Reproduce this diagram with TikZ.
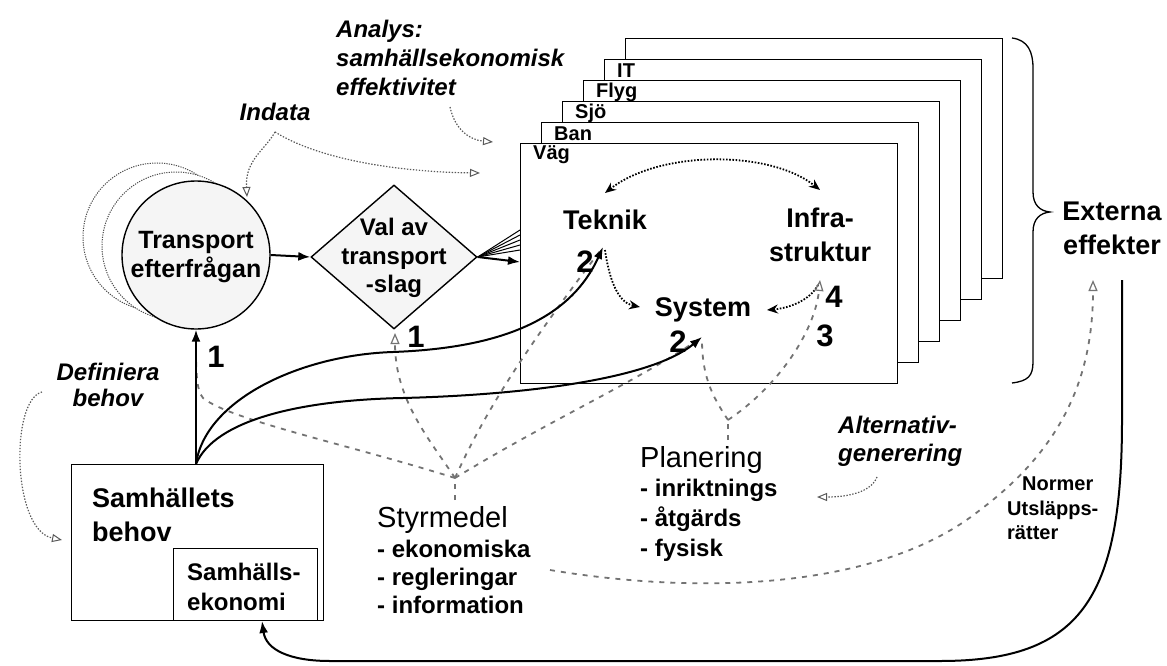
\documentclass[tikz,border=0pt]{standalone}
\usepackage{fontspec}
\setmainfont{Liberation Sans}
\usetikzlibrary{arrows.meta,shapes.geometric}
\tikzset{
  box/.style={draw, line width=1.4pt, fill=white, inner sep=0pt},
  lbl/.style={inner sep=0pt, font=\bfseries\fontsize{20}{24}\selectfont, anchor=west},
  big/.style={inner sep=0pt, align=center, font=\bfseries\fontsize{27}{34}\selectfont},
  num/.style={inner sep=0pt, font=\bfseries\fontsize{31}{31}\selectfont},
  itl/.style={inner sep=0pt, font=\bfseries\itshape\fontsize{24}{29}\selectfont},
  solidarr/.style={line width=2pt, -{Latex[length=12pt,width=9pt]}},
  solidln/.style={line width=2pt},
  gdash/.style={draw=black!55, line width=1.8pt, dash pattern=on 5pt off 6pt},
  garr/.style={gdash, -{Triangle[open,length=11pt,width=9pt,line width=1.2pt]}},
  bdot/.style={line width=1.8pt, dash pattern=on 1.6pt off 1.6pt},
  bdotarr/.style={bdot, -{Stealth[length=11pt,width=9pt]}},
  sdot/.style={draw=black!65, line width=1.2pt, dash pattern=on 1.4pt off 1.6pt, -{Triangle[open,length=10pt,width=8pt,line width=1pt]}},
  shadow/.style={circle, draw=black!70, line width=1pt, dash pattern=on 1.2pt off 1.2pt, fill=white, minimum size=148, inner sep=0pt}
}
\begin{document}
\begin{tikzpicture}[x=1pt,y=-1pt]
\useasboundingbox (0,0) rectangle (1167,666);

% ---- stack of mode boxes
\foreach \k/\t in {5/{},4/IT,3/Flyg,2/Sjö,1/Ban,0/Väg} {
  \node[box, minimum width=377, minimum height=240, anchor=north west] (b\k) at ({520+21*\k},{143-21*\k}) {};
  \node[lbl] (l\k) at ({533+21*\k},{155-21*\k}) {\t};
}

% brace
\coordinate (brT) at (1012,38);
\coordinate (brB) at (1012,383);
\coordinate (brP) at (1050,212);
\draw[line width=1.3pt] (brT) .. controls (1028,40) and (1033,52) .. (1033,68) -- (1033,192)
  .. controls (1033,205) and (1040,211) .. (brP)
  .. controls (1040,213) and (1033,219) .. (1033,232) -- (1033,362)
  .. controls (1033,376) and (1028,381) .. (brB);
\node[big] (ext) at (1112,228) {Externa\\effekter};

% ---- circle with shadows
\node[shadow] (sh2) at (157,237) {};
\node[shadow] (sh1) at (176,246) {};
\node[circle, draw, line width=1.4pt, fill=black!4, minimum size=148, inner sep=0pt] (circ) at (196,255) {};
\node[inner sep=0pt, align=center, font=\bfseries\fontsize{25}{29}\selectfont] (circt) at (196,257) {Transport\\efterfrågan};

% ---- diamond
\node[diamond, draw, line width=1.4pt, fill=black!4, minimum width=166, minimum height=144, inner sep=0pt] (dia) at (394,257) {};
\node[inner sep=0pt, align=center, font=\bfseries\fontsize{24}{28.5}\selectfont] (diat) at (394,258) {Val av\\transport\\-slag};

\draw[solidarr] (circ.east) -- (dia.west);

% fan to the boxes
\coordinate (f1) at (520,230);
\coordinate (f2) at (520,235);
\coordinate (f3) at (520,240);
\coordinate (f4) at (520,245);
\coordinate (f5) at (520,250);
\coordinate (f6) at (520,262);
\foreach \i in {1,...,5} \draw[line width=1pt] (dia.east) -- (f\i);
\draw[solidarr] (dia.east) -- (f6);

% ---- texts in the Väg box
\node[big] (tek) at (605,220) {Teknik};
\node[big] (inf) at (820,235) {Infra-\\struktur};
\node[big] (sys) at (703,310) {System};

\coordinate (tekT) at (605,193);
\coordinate (infT) at (820,190);
\coordinate (tekB) at (605,250);
\coordinate (sysL) at (640,307);
\coordinate (infB) at (818,285);
\coordinate (sysR) at (767,310);
\draw[bdot, {Stealth[length=11pt,width=9pt]}-{Stealth[length=11pt,width=9pt]}] (tekT) .. controls (660,150) and (770,150) .. (infT);
\draw[bdotarr] (tekB) .. controls (610,285) and (620,303) .. (sysL);
\draw[bdotarr] (infB) .. controls (810,300) and (790,308) .. (sysR);

% ---- Samhällets behov
\node[box, minimum width=252, minimum height=156, anchor=north west] (sb) at (71,464) {};
\node[box, minimum width=144, minimum height=72, anchor=north west] (se) at (173,548) {};
\node[inner sep=0pt, align=left, anchor=west, font=\bfseries\fontsize{27}{34}\selectfont] (sbt) at (92,515) {Samhällets\\behov};
\node[inner sep=0pt, align=left, anchor=west, font=\bfseries\fontsize{24}{30}\selectfont] (set) at (187,587) {Samhälls-\\ekonomi};

% ---- Styrmedel & Planering
\node[inner sep=0pt, anchor=west, font=\fontsize{29}{29}\selectfont] (sty) at (377,520) {Styrmedel};
\node[inner sep=0pt, anchor=north west, align=left, font=\bfseries\fontsize{24}{28}\selectfont] (styl) at (377,540) {- ekonomiska\\- regleringar\\- information};
\node[inner sep=0pt, anchor=west, font=\fontsize{29}{29}\selectfont] (pla) at (640,460) {Planering};
\node[inner sep=0pt, anchor=north west, align=left, font=\bfseries\fontsize{24}{30}\selectfont] (plal) at (640,479) {- inriktnings\\- åtgärds\\- fysisk};

% dashed gray influences
\coordinate (sF0) at (455,500);
\coordinate (sF) at (455,478);
\coordinate (pF0) at (728,440);
\coordinate (pF) at (728,420);
\coordinate (cB) at (196,338);
\coordinate (dB) at (395,333);
\coordinate (tekA) at (603,247);
\coordinate (sysB) at (702,337);
\coordinate (sysB2) at (702,340);
\coordinate (infA) at (820,280);
\draw[gdash] (sF0) -- (sF);
\draw[gdash] (sF) .. controls (350,445) and (230,420) .. (203,398) .. controls (196,390) and (196,370) .. (cB);
\draw[garr] (sF) .. controls (430,440) and (395,400) .. (dB);
\draw[gdash] (sF) .. controls (490,400) and (540,330) .. (tekA);
\draw[gdash] (sF) .. controls (550,420) and (640,380) .. (sysB);
\draw[gdash] (pF0) -- (pF);
\draw[gdash] (pF) .. controls (715,400) and (702,380) .. (sysB2);
\draw[garr] (pF) .. controls (780,385) and (815,330) .. (infA);

% Normer dashed
\coordinate (nS) at (550,570);
\coordinate (nE) at (1093,280);
\draw[garr] (nS) .. controls (700,595) and (880,590) .. (980,510) .. controls (1060,450) and (1093,380) .. (nE);

% ---- solid arrows from Samhällets behov
\coordinate (J) at (196,464);
\coordinate (m1) at (393,352);
\coordinate (m2) at (403,398);
\draw[solidarr] (J) -- (circ.south);
\draw[solidarr] (J) .. controls (205,400) and (300,355) .. (m1) .. controls (500,348) and (570,320) .. (tekA);
\draw[solidarr] (J) .. controls (215,420) and (300,400) .. (m2) .. controls (520,395) and (650,380) .. (sysB);

% return line
\coordinate (rS) at (1122,280);
\coordinate (seB) at (262,621);
\draw[solidarr] (rS) -- (1122,420) .. controls (1122,600) and (1080,661) .. (940,661) -- (330,661) .. controls (290,661) and (266,650) .. (seB);

% ---- numbers
\node[num] (n1a) at (216,357) {1};
\node[num] (n1b) at (416,337) {1};
\node[num] (n2a) at (585,262) {2};
\node[num] (n2b) at (678,342) {2};
\node[num] (n4) at (834,297) {4};
\node[num] (n3) at (825,336) {3};

% ---- italic annotations
\node[itl, align=left, anchor=west] (ana) at (336,58) {Analys:\\samhällsekonomisk\\effektivitet};
\node[itl] (ind) at (275,112) {Indata};
\node[itl, align=center, font=\bfseries\itshape\fontsize{24}{26}\selectfont] (def) at (108,385) {Definiera\\behov};
\node[itl, align=left, anchor=west, font=\bfseries\itshape\fontsize{24}{28}\selectfont] (alt) at (838,441) {Alternativ-\\generering};
\node[inner sep=0pt, anchor=west, font=\bfseries\fontsize{20}{24}\selectfont] (nor) at (1022,484) {Normer};
\node[inner sep=0pt, anchor=west, font=\bfseries\fontsize{20}{24}\selectfont] (uts) at (1007,510) {Utsläpps-};
\node[inner sep=0pt, anchor=west, font=\bfseries\fontsize{20}{24}\selectfont] (rat) at (1007,533) {rätter};

\coordinate (anS) at (450,107);
\coordinate (anE) at (493,142);
\draw[sdot] (anS) .. controls (455,130) and (470,140) .. (anE);
\coordinate (inS) at (275,132);
\coordinate (inC) at (247,197);
\coordinate (inR) at (480,173);
\draw[sdot] (inS) .. controls (265,150) and (245,160) .. (inC);
\draw[sdot] (inS) .. controls (320,160) and (400,172) .. (inR);
\coordinate (dfS) at (42,392);
\coordinate (dfE) at (62,540);
\draw[sdot] (dfS) .. controls (10,400) and (12,530) .. (dfE);
\coordinate (alS) at (877,477);
\coordinate (alE) at (817,497);
\draw[sdot] (alS) .. controls (870,495) and (840,497) .. (alE);
\end{tikzpicture}
\end{document}
